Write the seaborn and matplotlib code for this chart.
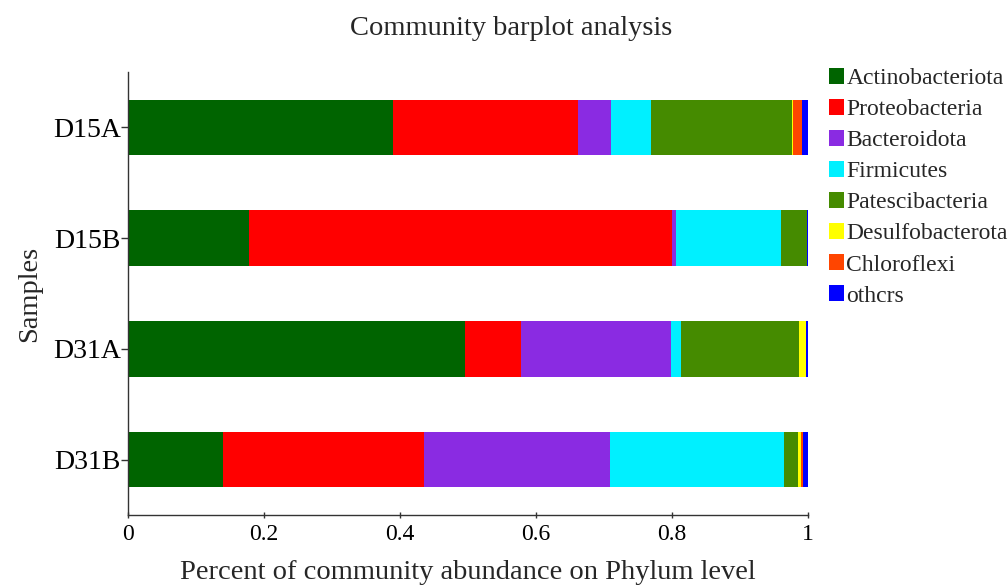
import numpy as np
import pandas as pd
import matplotlib
matplotlib.use("Agg")
import matplotlib.pyplot as plt
from matplotlib.patches import Patch
import seaborn as sns

# Data (relative abundance per sample)
samples = ["D15A", "D15B", "D31A", "D31B"]
phyla = ["Actinobacteriota", "Proteobacteria", "Bacteroidota", "Firmicutes",
         "Patescibacteria", "Desulfobacterota", "Chloroflexi", "othcrs"]
actinobacteriota = [0.390, 0.178, 0.496, 0.140]
proteobacteria = [0.272, 0.622, 0.082, 0.295]
bacteroidota = [0.048, 0.006, 0.221, 0.274]
firmicutes = [0.059, 0.154, 0.014, 0.256]
patescibacteria = [0.207, 0.039, 0.174, 0.021]
desulfobacterota = [0.002, 0.000, 0.010, 0.003]
chloroflexi = [0.013, 0.000, 0.000, 0.004]
othcrs = [0.009, 0.001, 0.003, 0.007]
colors = ["#006400", "#FF0000", "#8A2BE2", "#00F0FF",
          "#458B00", "#FFFF00", "#FF4500", "#0000FF"]

df = pd.DataFrame({"Sample": samples,
                   "Actinobacteriota": actinobacteriota,
                   "Proteobacteria": proteobacteria,
                   "Bacteroidota": bacteroidota,
                   "Firmicutes": firmicutes,
                   "Patescibacteria": patescibacteria,
                   "Desulfobacterota": desulfobacterota,
                   "Chloroflexi": chloroflexi,
                   "othcrs": othcrs})

sns.set_theme(style="ticks")
plt.rcParams["font.family"] = ["Liberation Serif", "DejaVu Serif"]

fig = plt.figure(figsize=(10.08, 5.85), dpi=100)
ax = fig.add_axes([0.127, 0.1197, 0.6746, 0.7573])

# stacked bars: draw cumulative sums from the last phylum backwards
cum = df[phyla].cumsum(axis=1)
for name, color in reversed(list(zip(phyla, colors))):
    sns.barplot(x=cum[name], y=df["Sample"], orient="h", color=color,
                width=0.5, saturation=1, edgecolor="none", linewidth=0, ax=ax)

ax.set_xlim(0, 1)
ax.set_ylim(3.5, -0.5)
ax.set_xticks([0, 0.2, 0.4, 0.6, 0.8, 1.0])
ax.set_xticklabels(["0", "0.2", "0.4", "0.6", "0.8", "1"])
ax.tick_params(axis="x", labelsize=17, direction="inout", length=5, width=1,
               color="#333333", labelcolor="black", pad=4)
ax.tick_params(axis="y", labelsize=20, direction="out", length=5, width=1,
               color="#333333", labelcolor="black", pad=0)
for side in ["top", "right"]:
    ax.spines[side].set_visible(False)
for side in ["left", "bottom"]:
    ax.spines[side].set_color("#333333")
    ax.spines[side].set_linewidth(1)

ax.set_xlabel("Percent of community abundance on Phylum level", fontsize=20.5, labelpad=11)
ax.set_ylabel("Samples", fontsize=20.5, labelpad=8)
fig.text(0.507, 0.952, "Community barplot analysis", fontsize=20.5,
         ha="center", va="center")

handles = [Patch(facecolor=c, edgecolor="none", label=p) for p, c in zip(phyla, colors)]
fig.legend(handles=handles, loc="upper left", bbox_to_anchor=(0.822, 0.884),
           frameon=False, fontsize=17, handlelength=0.65, handleheight=0.65,
           handletextpad=0.1, labelspacing=0.42, borderpad=0, borderaxespad=0)

fig.savefig("out.png", dpi=100)
